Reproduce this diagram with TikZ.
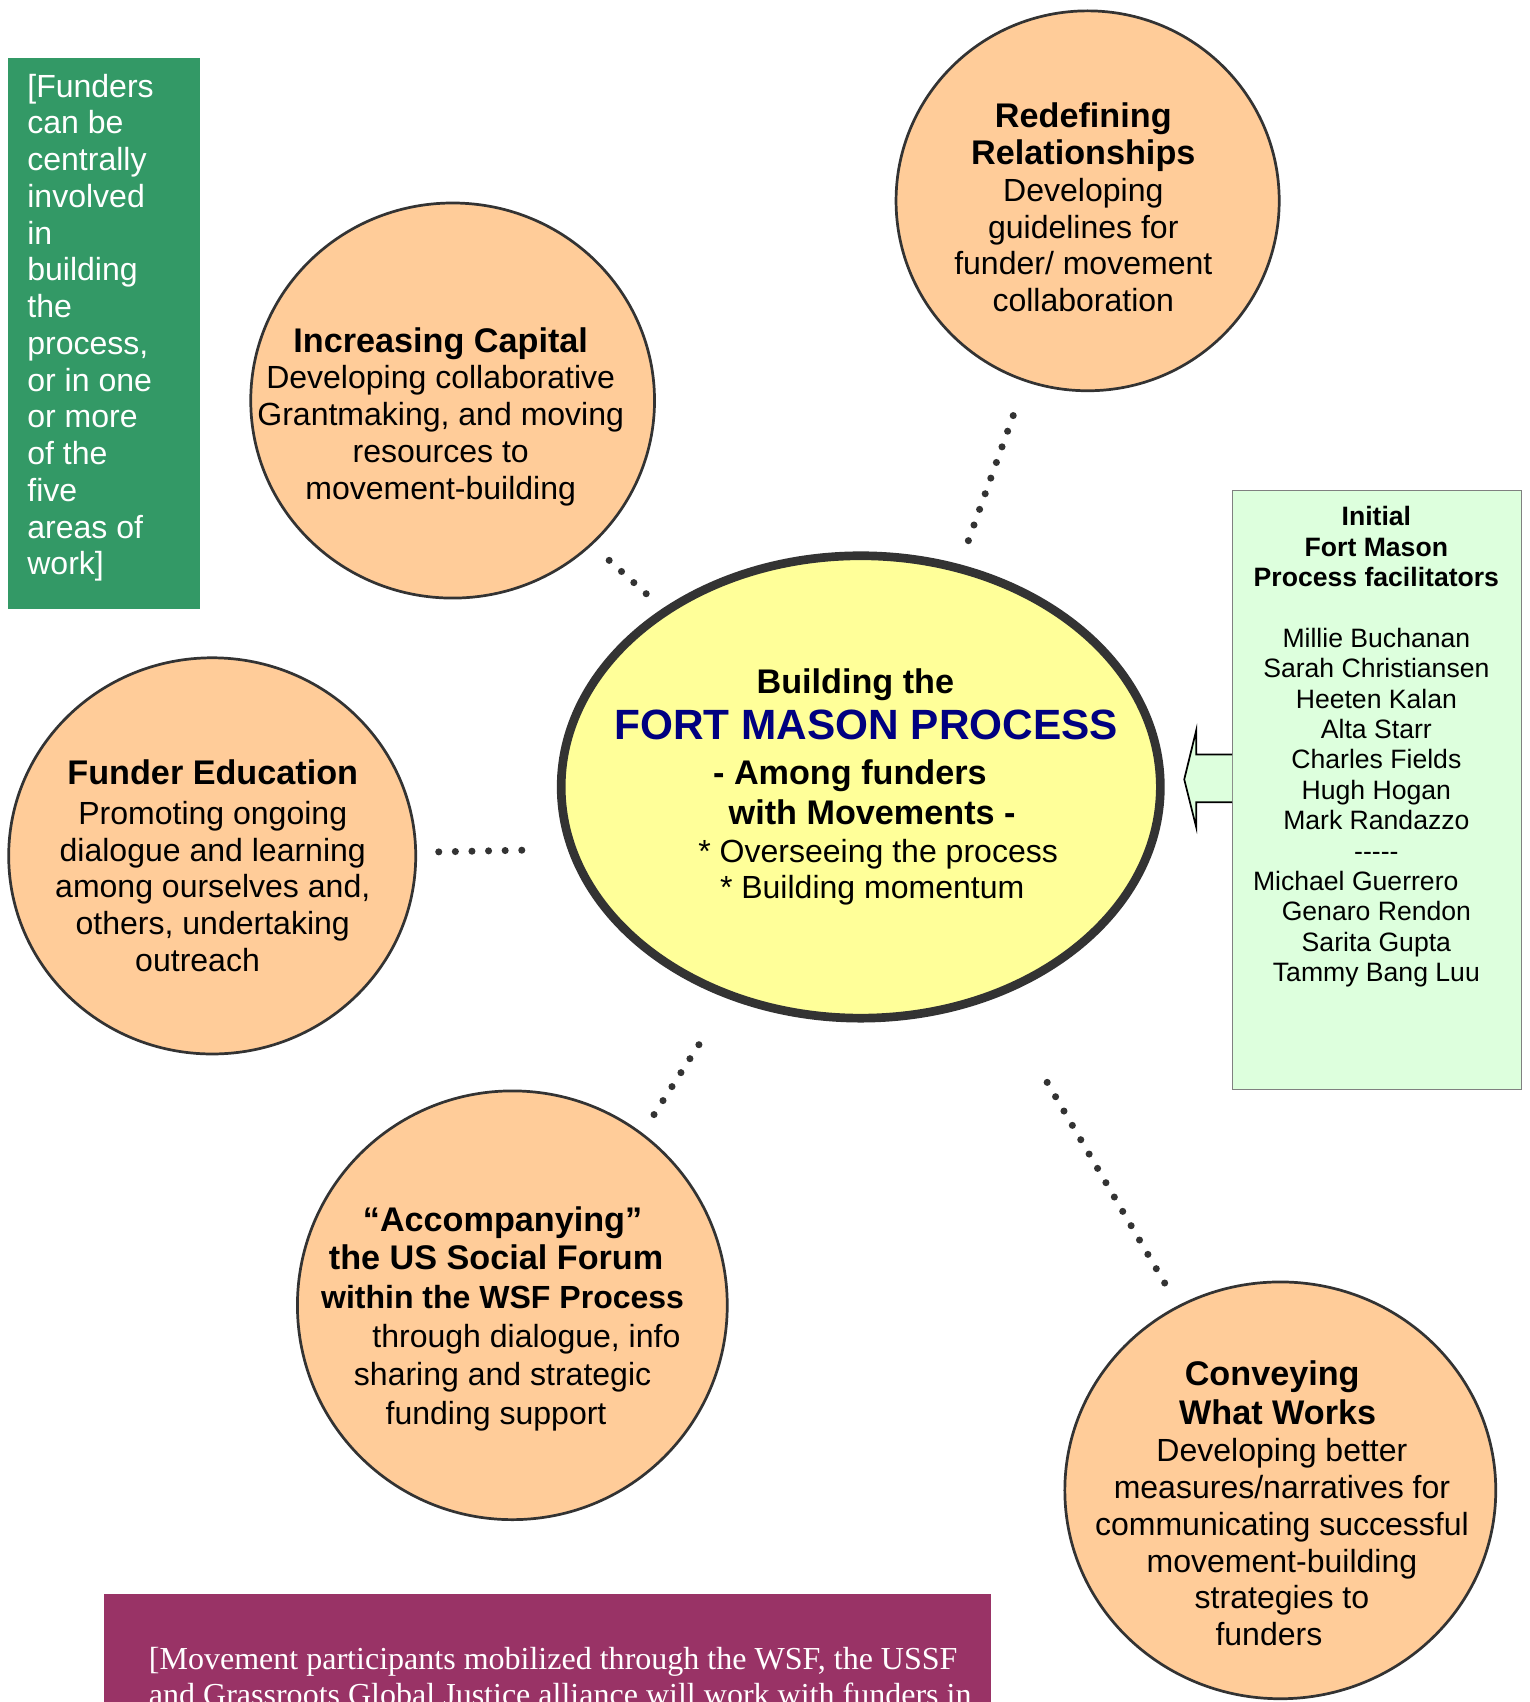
\documentclass[tikz,border=0pt]{standalone}
\usepackage{fontspec}
\setmainfont{Liberation Sans}
\newfontfamily\timesfont{Liberation Serif}
\usetikzlibrary{shapes.geometric}
\definecolor{peach}{HTML}{FFCC99}
\definecolor{lemon}{HTML}{FFFF99}
\definecolor{mint}{HTML}{DDFFDD}
\definecolor{seagreen}{HTML}{339966}
\definecolor{plum}{HTML}{993366}
\definecolor{navyblue}{HTML}{000080}
\definecolor{edgegray}{HTML}{333333}
\newcommand{\hd}[1]{{\fontsize{31.5}{34}\selectfont\bfseries #1}}
\newcommand{\gap}[1]{\rule{#1}{0pt}}
\tikzset{
  bubble/.style={ellipse, draw=edgegray, line width=2.5pt, fill=peach, inner sep=0pt},
  hub/.style={ellipse, draw=edgegray, line width=8pt, fill=lemon, inner sep=0pt},
  dotline/.style={draw=edgegray, line width=6.5pt, line cap=round, dash pattern=on 0pt off 15.3pt},
  body/.style={align=center, inner sep=0pt, font=\fontsize{29.5}{34}\selectfont},
  names/.style={align=center, inner sep=0pt, font=\fontsize{24.5}{28}\selectfont},
}
\begin{document}
\begin{tikzpicture}[x=1pt,y=-1pt]
\clip (0,0) rectangle (1409,1568);
\fill[white] (0,0) rectangle (1409,1568);

% left green note
\node[fill=seagreen, minimum width=177, minimum height=508, inner sep=0pt, anchor=north west] (note) at (7,53) {};
\node[align=left, inner sep=0pt, anchor=north west, text=white, font=\fontsize{29.5}{33.85}\selectfont] (notetext) at (25,68)
  {[Funders\\can be\\centrally\\involved\\in\\building\\the\\process,\\or in one\\or more\\of the\\five\\areas of\\work]};

% bubbles
\node[bubble, minimum width=372, minimum height=364] (ic) at (417,369) {};
\node[bubble, minimum width=353, minimum height=350] (rr) at (1002,185) {};
\node[bubble, minimum width=375, minimum height=365] (fe) at (195.5,788.5) {};
\node[bubble, minimum width=396, minimum height=395] (ac) at (472,1202.5) {};
\node[bubble, minimum width=397, minimum height=384] (cw) at (1179.5,1373) {};
\node[hub, minimum width=552, minimum height=426] (c) at (793,725) {};

% bubble texts
\node[body] (ictext) at (406,384)
  {\hd{Increasing Capital}\\Developing collaborative\\Grantmaking, and moving\\resources to\\movement-building};
\node[body] (rrtext) at (998,191)
  {\hd{Redefining}\\[0pt]\hd{Relationships}\\Developing\\guidelines for\\funder/ movement\\collaboration};
\node[body] (fetext) at (196,797.5)
  {\hd{Funder Education}\\[3pt]Promoting ongoing\\dialogue and learning\\among ourselves and,\\others, undertaking\\outreach\gap{28pt}};
\node[body, font=\fontsize{29.5}{35.6}\selectfont] (actext) at (463,1215)
  {\hd{“Accompanying”}\\\hd{the US Social Forum}\gap{12pt}\\{\bfseries within the WSF Process}\\\gap{44pt}through dialogue, info\\sharing and strategic\\funding support\gap{12pt}};
\node[body] (cwtext) at (1181,1385)
  {\hd{Conveying}\gap{18pt}\\[2pt]\hd{What Works}\gap{8pt}\\Developing better\\measures/narratives for\\communicating successful\\movement-building\\strategies to\\funders\gap{24pt}};

% hub text
\node[align=center, inner sep=0pt, font=\fontsize{31.5}{34}\selectfont\bfseries] (ctext) at (798,725)
  {Building the\gap{20pt}\\[8pt]
   {\fontsize{39}{34}\selectfont\color{navyblue}FORT MASON PROCESS}\\[7pt]
   - Among funders\gap{30pt}\\[3pt]
   \gap{11pt}with Movements -\\[1pt]
   {\mdseries\fontsize{29.5}{34}\selectfont\gap{22pt}* Overseeing the process}\\[-1pt]
   {\mdseries\fontsize{29.5}{34}\selectfont\gap{11pt}* Building momentum}};

% facilitators box and arrow
\node[draw=gray, line width=1.2pt, fill=mint, minimum width=266, minimum height=552, inner sep=0pt, anchor=north west] (fac) at (1135,451) {};
\filldraw[fill=mint, draw=black, line width=1.6pt, line join=miter]
  (fac.west |- 0,695) -- (1102,695) -- (1102,673) -- (1091,718) -- (1102,762) -- (1102,739) -- (fac.west |- 0,739);
\node[names] (factext) at (1268,688)
  {\bfseries Initial\\\bfseries Fort Mason\\\bfseries Process facilitators\\[28pt]
   Millie Buchanan\\Sarah Christiansen\\Heeten Kalan\\Alta Starr\\Charles Fields\\Hugh Hogan\\Mark Randazzo\\{-}{-}{-}{-}{-}\\
   Michael Guerrero\gap{38pt}\\Genaro Rendon\\Sarita Gupta\\Tammy Bang Luu};

% dotted connectors
\draw[dotline, shorten <=21pt, shorten >=6pt] (ic.-46.2) -- (c.138.2);
\draw[dotline, shorten <=33pt, shorten >=21pt] (rr.251) -- (c.66.25);
\draw[dotline, shorten <=20pt, shorten >=38pt] (fe.1.5) -- (c.192.1);
\draw[dotline, shorten <=20pt, shorten >=48pt] (ac.53) -- (c.238.5);
\draw[dotline, shorten <=24pt, shorten >=86pt] (cw.119.6) -- (c.-57.5);

% bottom note (cut off by the page edge, as in the original)
\node[fill=plum, minimum width=817, minimum height=160, inner sep=0pt, anchor=north west] (movenote) at (96,1468) {};
\node[align=left, inner sep=0pt, anchor=north west, text=white, font=\timesfont\fontsize{29.5}{33.8}\selectfont] (movetext) at (137,1517)
  {[Movement participants mobilized through the WSF, the USSF\\and Grassroots Global Justice alliance will work with funders in};
\end{tikzpicture}
\end{document}
